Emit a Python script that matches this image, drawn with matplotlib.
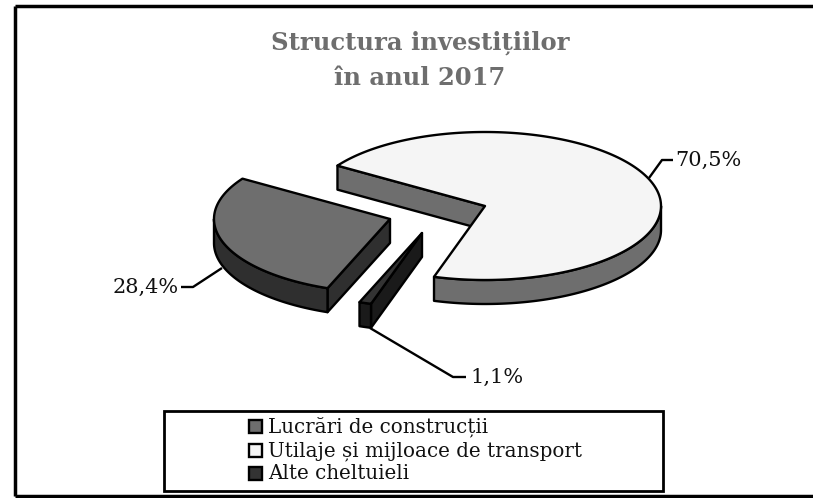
import numpy as np
import matplotlib
matplotlib.use('Agg')
import matplotlib.pyplot as plt
from matplotlib.patches import Polygon, Rectangle

W, H = 813, 498

title_lines = ['Structura investițiilor', 'în anul 2017']
categories = ['Lucrări de construcții', 'Utilaje și mijloace de transport', 'Alte cheltuieli']
values = [28.4, 70.5, 1.1]
value_labels = ['28,4%', '70,5%', '1,1%']
top_colors = ['#6e6e6e', '#f5f5f5', '#333333']
side_colors = ['#2f2f2f', '#6e6e6e', '#1a1a1a']

RX, RY, DEPTH = 176, 74, 24
START = 147 + 102.2  # slice 0 starts here, going clockwise
apexes = [(390, 219), (485, 206), (422, 233)]
LW = 1.7

fig = plt.figure(figsize=(W / 100, H / 100), dpi=100)
ax = fig.add_axes([0, 0, 1, 1])
ax.set_xlim(0, W)
ax.set_ylim(H, 0)
ax.axis('off')


def arc(apex, t0, t1, dy=0):
    t = np.radians(np.linspace(t0, t1, 200))
    return np.column_stack([apex[0] + RX * np.cos(t), apex[1] - RY * np.sin(t) + dy])


def draw_slice(apex, t0, t1, top, side):
    # t0 > t1, clockwise. walls first, top face over them
    if t0 > 180:
        t0, t1 = t0 - 360, t1 - 360
    e0 = arc(apex, t0, t0)[0]
    down = np.array([0, DEPTH])
    a = np.array(apex, dtype=float)
    ax.add_patch(Polygon([a, e0, e0 + down, a + down], fc=side, ec='black', lw=LW, joinstyle='round'))
    # outer wall only where it faces the viewer
    lo, hi = max(t1, -180), min(t0, 0)
    if hi > lo:
        upper = arc(apex, hi, lo)
        ax.add_patch(Polygon(np.vstack([upper, (upper + down)[::-1]]), fc=side, ec='black', lw=LW, joinstyle='round'))
    ax.add_patch(Polygon(np.vstack([[a], arc(apex, t0, t1)]), fc=top, ec='black', lw=LW, joinstyle='round'))


# title
for txt, y in zip(title_lines, [50, 85]):
    ax.text(420, y, txt, ha='center', va='baseline', family='DejaVu Serif', weight='bold',
            fontsize=17.5, color='#6e6e6e')

# slices from the values
angle = START
spans = []
for v in values:
    spans.append((angle, angle - v / 100 * 360))
    angle = spans[-1][1]
for i in [1, 0, 2]:
    draw_slice(apexes[i], spans[i][0], spans[i][1], top_colors[i], side_colors[i])

# leader lines and labels
leaders = [[(222, 268), (193, 287), (181, 287)],
           [(649, 178), (662, 160), (673, 160)],
           [(370, 328), (453, 377), (466, 377)]]
label_pos = [(179, 293, 'right'), (675, 166, 'left'), (470, 383, 'left')]
for pts, (x, y, ha), lab in zip(leaders, label_pos, value_labels):
    xs, ys = zip(*pts)
    ax.plot(xs, ys, color='black', lw=LW, solid_capstyle='butt')
    ax.text(x, y, lab, ha=ha, va='baseline', family='DejaVu Serif', fontsize=15, color='#111111')

# legend
ax.add_patch(Rectangle((164, 411), 499, 80, fc='white', ec='black', lw=2))
for y, cat, col in zip([426, 450, 473], categories, top_colors):
    ax.add_patch(Rectangle((249, y - 6.5), 13, 13, fc=col, ec='black', lw=LW))
    ax.text(268, y + 6, cat, ha='left', va='baseline', family='DejaVu Serif', fontsize=14.3, color='#111111')

# outer frame
ax.plot([15, 15], [6, 496], color='black', lw=2.5, solid_capstyle='butt')
ax.plot([15, 813], [6, 6], color='black', lw=2.5, solid_capstyle='butt')
ax.plot([15, 813], [496, 496], color='black', lw=2.5, solid_capstyle='butt')

fig.savefig('out.png', dpi=100)
